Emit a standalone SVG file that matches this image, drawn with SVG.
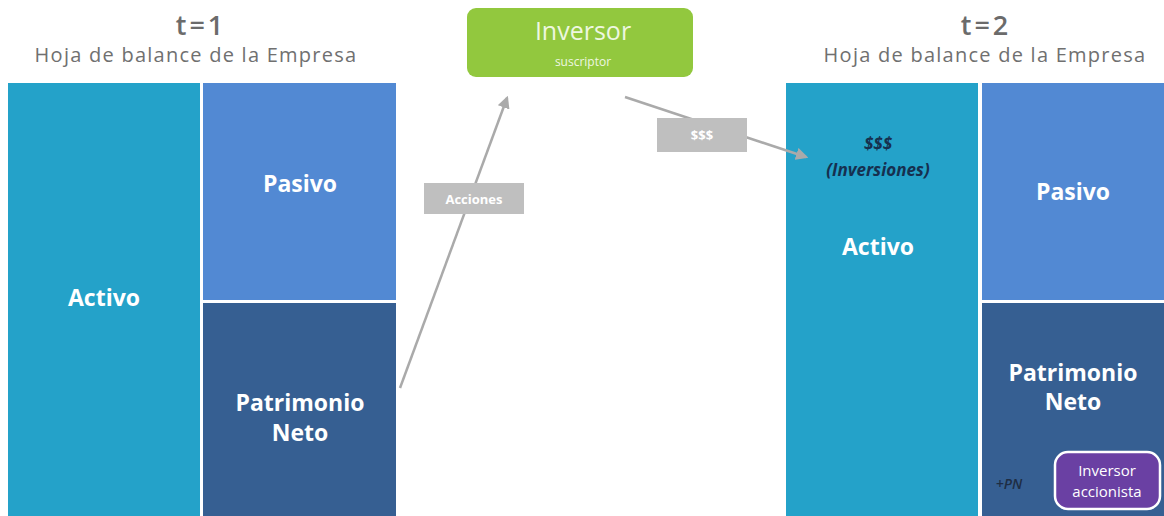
<svg xmlns="http://www.w3.org/2000/svg" width="1164" height="516" viewBox="0 0 1164 516">
<defs>
<style>
.t{font-family:"Open Sans","Liberation Sans",sans-serif;text-anchor:middle}
.head{font-size:27px;fill:#6b6b6b;font-weight:600;letter-spacing:3px}
.sub{font-size:20px;fill:#707070;letter-spacing:1.25px}
.lbl{font-size:23px;fill:#ffffff;font-weight:700}
.tag{font-size:13px;fill:#ffffff;font-weight:700}
.inv{font-size:17px;fill:#16304f;font-weight:700;font-style:italic}
.gbox{fill:#bfbfbf}
.act{fill:#24a2c9}
.pas{fill:#5289d3}
.pat{fill:#365f92}
.conn{stroke:#aaaaaa;stroke-width:2.5;fill:none}
</style>
<marker id="ah" viewBox="0 0 10 10" refX="8" refY="5" markerWidth="5" markerHeight="5" orient="auto" markerUnits="strokeWidth">
<path d="M0,0 L10,5 L0,10 z" fill="#aaaaaa"/>
</marker>
</defs>
<rect width="1164" height="516" fill="#ffffff"/>
<g id="title-t1">
<text class="t head" x="201" y="35">t=1</text>
<text class="t sub" x="196" y="62">Hoja de balance de la Empresa</text>
</g>
<g id="title-t2">
<text class="t head" x="986" y="35">t=2</text>
<text class="t sub" x="985" y="62">Hoja de balance de la Empresa</text>
</g>
<g id="activo1">
<rect class="act" x="8" y="83" width="192" height="433"/>
<text class="t lbl" x="104" y="306">Activo</text>
</g>
<g id="pasivo1">
<rect class="pas" x="203" y="83" width="193" height="217"/>
<text class="t lbl" x="300" y="192">Pasivo</text>
</g>
<g id="patrimonio1">
<rect class="pat" x="203" y="303" width="193" height="213"/>
<text class="t lbl" x="300" y="411">Patrimonio</text>
<text class="t lbl" x="300" y="441">Neto</text>
</g>
<g id="inversor">
<rect x="467" y="8" width="226" height="69" rx="9" fill="#92c83e"/>
<text class="t" x="583" y="40" style="font-size:25px;fill:#eef7e0">Inversor</text>
<text class="t" x="583" y="66" style="font-size:12px;fill:#eef7e0">suscriptor</text>
</g>
<g id="activo2">
<rect class="act" x="786" y="83" width="192" height="433"/>
<text class="t inv" x="878" y="150">$$$</text>
<text class="t inv" x="878" y="176">(Inversiones)</text>
<text class="t lbl" x="878" y="255">Activo</text>
</g>
<g id="pasivo2">
<rect class="pas" x="982" y="83" width="182" height="217"/>
<text class="t lbl" x="1073" y="200">Pasivo</text>
</g>
<g id="patrimonio2">
<rect class="pat" x="982" y="303" width="182" height="213"/>
<text class="t lbl" x="1073" y="381">Patrimonio</text>
<text class="t lbl" x="1073" y="410">Neto</text>
<text class="t" x="1009" y="489" style="font-size:14px;fill:#1e2d44;font-style:italic;font-weight:600">+PN</text>
</g>
<g id="accionista">
<rect x="1055" y="452" width="105" height="57" rx="13" fill="#6a40a3" stroke="#ffffff" stroke-width="2.5"/>
<text class="t" x="1107" y="476" style="font-size:15px;fill:#ffffff">Inversor</text>
<text class="t" x="1107" y="497" style="font-size:15px;fill:#ffffff">accionista</text>
</g>
<g id="connectors">
<line class="conn" x1="400" y1="388" x2="507" y2="98" marker-end="url(#ah)"/>
<line class="conn" x1="625" y1="97" x2="806" y2="157" marker-end="url(#ah)"/>
<rect class="gbox" x="424" y="183" width="100" height="31"/>
<text class="t tag" x="474" y="204">Acciones</text>
<rect class="gbox" x="657" y="118" width="90" height="34"/>
<text class="t tag" x="702" y="140">$$$</text>
</g>
</svg>
